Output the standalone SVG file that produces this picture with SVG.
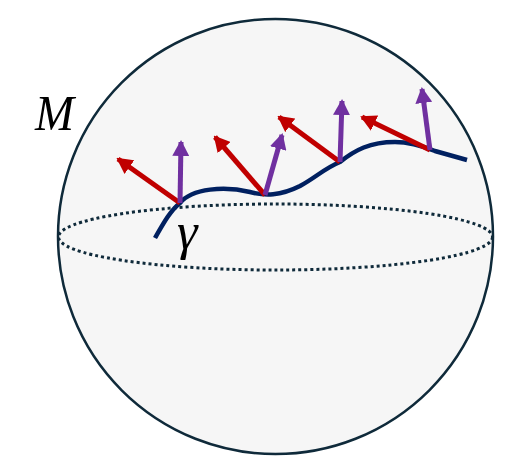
<svg xmlns="http://www.w3.org/2000/svg" width="532" height="473" viewBox="0 0 532 473">
<defs>
<style>
.sphere{fill:#f6f6f6;stroke:#0f2a3a;stroke-width:2.5}
.eq{fill:none;stroke:#0f2a3a;stroke-width:3;stroke-dasharray:3 3}
.curve{fill:none;stroke:#002060;stroke-width:4.5;stroke-linecap:butt}
.red{stroke:#c00000;stroke-width:5;fill:none}
.pur{stroke:#7030a0;stroke-width:5;fill:none}
.lbl{font-family:"Liberation Serif","DejaVu Serif",serif;font-style:italic;fill:#000}
</style>
<marker id="hr" viewBox="0 0 16 17" refX="14" refY="8.5" markerWidth="16" markerHeight="17" markerUnits="userSpaceOnUse" orient="auto"><path d="M0,0 L16,8.5 L0,17 Z" fill="#c00000"/></marker>
<marker id="hp" viewBox="0 0 16 17" refX="14" refY="8.5" markerWidth="16" markerHeight="17" markerUnits="userSpaceOnUse" orient="auto"><path d="M0,0 L16,8.5 L0,17 Z" fill="#7030a0"/></marker>
</defs>
<g id="manifold">
<circle class="sphere" cx="275.5" cy="236.5" r="217.5"/>
<ellipse class="eq" cx="275.5" cy="237" rx="217" ry="33"/>
</g>
<g id="curve-gamma">
<path class="curve" d="M155,238 C163,224 170,211 180,203 C192,188 225,186 250,192 C265,196 280,196 300,186 C315,178 325,168 340,162 C355,150 370,142 395,142 C410,142 425,147 435,151 L467,160"/>
</g>
<g id="vectors">
<line class="red" x1="180" y1="203" x2="118" y2="159" marker-end="url(#hr)"/>
<line class="pur" x1="180" y1="203" x2="181" y2="142" marker-end="url(#hp)"/>
<line class="red" x1="265" y1="195" x2="215" y2="137" marker-end="url(#hr)"/>
<line class="pur" x1="265" y1="195" x2="282" y2="135" marker-end="url(#hp)"/>
<line class="red" x1="340" y1="162" x2="279" y2="117" marker-end="url(#hr)"/>
<line class="pur" x1="340" y1="162" x2="342" y2="101" marker-end="url(#hp)"/>
<line class="red" x1="430" y1="150" x2="362" y2="117" marker-end="url(#hr)"/>
<line class="pur" x1="430" y1="150" x2="422" y2="89" marker-end="url(#hp)"/>
</g>
<g id="labels">
<text class="lbl" x="35" y="130" font-size="50" textLength="39" lengthAdjust="spacingAndGlyphs">M</text>
<text class="lbl" x="177" y="249" font-size="52">γ</text>
</g>
</svg>
